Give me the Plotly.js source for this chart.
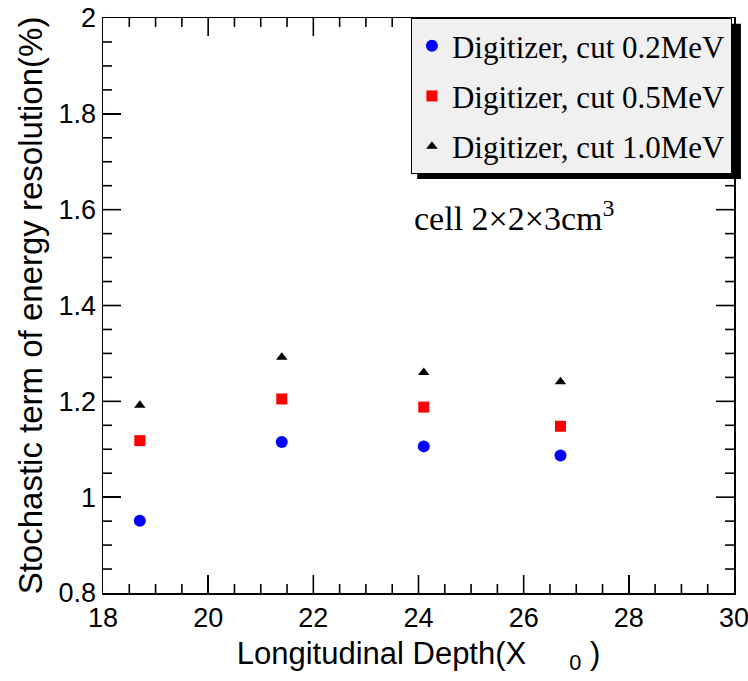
<!DOCTYPE html>
<html>
<head>
<meta charset="utf-8">
<script src="https://cdn.plot.ly/plotly-3.0.1.min.js"></script>
<style>html,body{margin:0;padding:0;background:#fff;}</style>
</head>
<body>
<div id="chart" style="width:748px;height:681px;"></div>
<script>
const depth = [18.7, 21.4, 24.1, 26.7];
const cut02 = [0.951, 1.115, 1.106, 1.087];
const cut05 = [1.118, 1.205, 1.188, 1.148];
const cut10 = [1.192, 1.292, 1.260, 1.241];
const names = ["Digitizer, cut 0.2MeV", "Digitizer, cut 0.5MeV", "Digitizer, cut 1.0MeV"];
const xRange = [18, 30];
const yRange = [0.8, 2.0];
const xMajor = 2, xMinor = 0.5;
const yMajor = 0.2, yMinor = 0.05;

const W = 748, H = 681;
const M = {l: 103, r: 14, t: 18, b: 88};
const plotW = W - M.l - M.r, plotH = H - M.t - M.b;

const traces = [
  {x: depth, y: cut02, name: names[0], mode: "markers", type: "scatter", legendgroup: "a",
   marker: {symbol: "circle", size: 12, color: "#0000ff"}},
  {x: depth, y: cut05, name: names[1], mode: "markers", type: "scatter", legendgroup: "b",
   marker: {symbol: "square", size: 11, color: "#ff0000"}},
  {x: depth, y: cut10, name: names[2], mode: "markers", type: "scatter", legendgroup: "c",
   marker: {symbol: "triangle-up", size: 10, color: "#000000"}}
];

// inside tick marks on all four sides, as thin filled rectangles (data/paper units)
const tickShapes = [];
const halfPx = 0.8;
const xPerPx = (xRange[1] - xRange[0]) / plotW;
const yPerPx = (yRange[1] - yRange[0]) / plotH;
function rect(o) {
  return Object.assign({type: "rect", fillcolor: "#000000", line: {width: 0}, layer: "above"}, o);
}
function addX(v, len) {
  const lp = len / plotH;
  tickShapes.push(rect({xref: "x", yref: "paper", x0: v - halfPx * xPerPx, x1: v + halfPx * xPerPx, y0: 0, y1: lp}));
  tickShapes.push(rect({xref: "x", yref: "paper", x0: v - halfPx * xPerPx, x1: v + halfPx * xPerPx, y0: 1 - lp, y1: 1}));
}
function addY(v, len) {
  const lp = len / plotW;
  tickShapes.push(rect({xref: "paper", yref: "y", x0: 0, x1: lp, y0: v - halfPx * yPerPx, y1: v + halfPx * yPerPx}));
  tickShapes.push(rect({xref: "paper", yref: "y", x0: 1 - lp, x1: 1, y0: v - halfPx * yPerPx, y1: v + halfPx * yPerPx}));
}
const nx = Math.round((xRange[1] - xRange[0]) / xMinor);
for (let i = 1; i < nx; i++) {
  const v = xRange[0] + i * xMinor;
  addX(v, (i % Math.round(xMajor / xMinor) === 0) ? 18 : 9);
}
const ny = Math.round((yRange[1] - yRange[0]) / yMinor);
for (let i = 1; i < ny; i++) {
  const v = yRange[0] + i * yMinor;
  addY(v, (i % Math.round(yMajor / yMinor) === 0) ? 18 : 9);
}

const layout = {
  width: W, height: H,
  margin: M,
  paper_bgcolor: "#fff", plot_bgcolor: "#fff",
  showlegend: true,
  xaxis: {
    showgrid: false, zeroline: false, showline: true, linecolor: "#000", linewidth: 1.5,
    mirror: true, ticks: "inside", ticklen: 18, tickwidth: 1.5, tickcolor: "#000",
    ticklabeloverflow: "allow",
    tickfont: {family: "Liberation Sans, Arial, sans-serif", size: 27, color: "#000"},
    range: xRange, dtick: xMajor, tick0: xRange[0],
    title: {text: "Longitudinal Depth(X&nbsp;&nbsp;&nbsp;&nbsp;&nbsp;<sub>0</sub>&nbsp;)", standoff: 10,
            font: {family: "Liberation Sans, Arial, sans-serif", size: 31, color: "#000"}}
  },
  yaxis: {
    showgrid: false, zeroline: false, showline: true, linecolor: "#000", linewidth: 1.5,
    mirror: true, ticks: "inside", ticklen: 18, tickwidth: 1.5, tickcolor: "#000",
    ticklabeloverflow: "allow",
    tickfont: {family: "Liberation Sans, Arial, sans-serif", size: 27, color: "#000"},
    range: yRange, dtick: yMajor, tick0: yRange[0],
    title: {text: "Stochastic term of energy resolution(%)", standoff: 6,
            font: {family: "Liberation Sans, Arial, sans-serif", size: 33, color: "#000"}}
  },
  legend: {
    x: 0.488, y: 1, xanchor: "left", yanchor: "top",
    bgcolor: "#f0f0f0", bordercolor: "#000", borderwidth: 1,
    font: {family: "Liberation Serif, Times New Roman, serif", size: 31, color: "#000"},
    traceorder: "grouped", tracegroupgap: 7
  },
  shapes: tickShapes.concat([
    {type: "rect", xref: "paper", yref: "paper", x0: 0.498, x1: 1.011, y0: 0.72, y1: 0.99,
     fillcolor: "#000", line: {width: 0}, layer: "above"}
  ]),
  annotations: [
    {xref: "paper", yref: "paper", x: 0.489, y: 0.655, xanchor: "left", yanchor: "middle",
     showarrow: false, text: "cell 2×2×3cm<sup>3</sup>",
     font: {family: "Liberation Serif, Times New Roman, serif", size: 34, color: "#000"}}
  ]
};

Plotly.newPlot("chart", traces, layout, {displayModeBar: false, staticPlot: true});
</script>
</body>
</html>
